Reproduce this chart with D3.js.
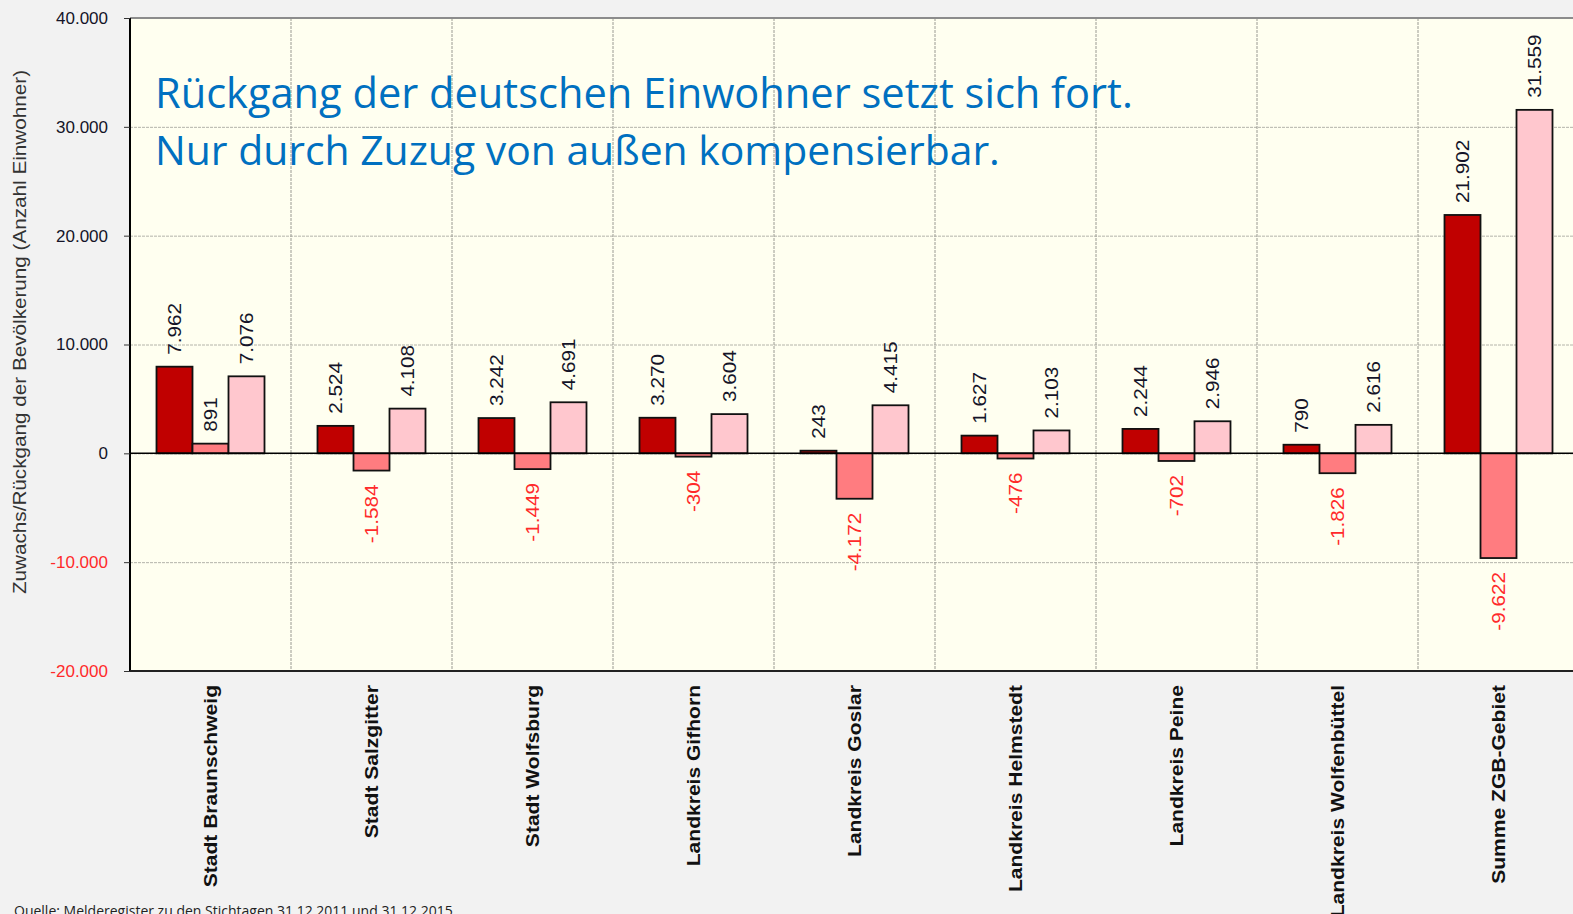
<!DOCTYPE html>
<html>
<head>
<meta charset="utf-8">
<script src="https://cdn.jsdelivr.net/npm/d3@7"></script>
<style>
  html, body { margin: 0; padding: 0; background: #f2f2f2; overflow: hidden; }
  svg { display: block; }
  .axis text { font-family: "Liberation Sans", Arial, sans-serif; }
</style>
</head>
<body>
<script>
var W = 1573, H = 914;
var margin = {top: 18, left: 130, bottom: 243};

var categories = ["Stadt Braunschweig", "Stadt Salzgitter", "Stadt Wolfsburg", "Landkreis Gifhorn",
    "Landkreis Goslar", "Landkreis Helmstedt", "Landkreis Peine", "Landkreis Wolfenbüttel", "Summe ZGB-Gebiet"];
var series = ["s1", "s2", "s3"];
var values1 = [7962, 2524, 3242, 3270, 243, 1627, 2244, 790, 21902];
var values2 = [891, -1584, -1449, -304, -4172, -476, -702, -1826, -9622];
var values3 = [7076, 4108, 4691, 3604, 4415, 2103, 2946, 2616, 31559];
var yTicks = [40000, 30000, 20000, 10000, 0, -10000, -20000];
var colors = ["#c00000", "#ff7c80", "#ffc7ce"];
var titleLines = ["Rückgang der deutschen Einwohner setzt sich fort.", "Nur durch Zuzug von außen kompensierbar."];
var yTitle = "Zuwachs/Rückgang der Bevölkerung (Anzahl Einwohner)";
var source = "Quelle: Melderegister zu den Stichtagen 31.12.2011 und 31.12.2015";

var de = d3.formatLocale({decimal: ",", thousands: ".", grouping: [3], currency: ["", " €"], minus: "-"});
var fmt = de.format(",d");

var plotBottom = H - margin.bottom; // 671
var plotRight = margin.left + 161 * categories.length;

var x = d3.scaleBand().domain(categories).range([margin.left, plotRight]);
var xs = d3.scaleBand().domain(series).range([26.5, 134.5]);
var y = d3.scaleLinear().domain([-20000, 40000]).range([plotBottom, margin.top]);

var data = [];
categories.forEach(function(c, i) {
    [values1, values2, values3].forEach(function(v, j) {
        data.push({cat: c, s: series[j], v: v[i], color: colors[j]});
    });
});

var svg = d3.select("body").append("svg")
    .attr("width", W)
    .attr("height", H);

svg.append("rect")
    .attr("x", margin.left)
    .attr("y", margin.top)
    .attr("width", plotRight - margin.left)
    .attr("height", plotBottom - margin.top)
    .attr("fill", "#fffff0");

// horizontal grid
svg.append("g")
    .attr("class", "grid")
    .attr("transform", "translate(" + margin.left + ",0)")
    .call(d3.axisLeft(y).tickValues(yTicks).tickSize(-(plotRight - margin.left)).tickFormat(""))
    .call(function(g) { g.select(".domain").remove(); })
    .selectAll("line")
    .attr("stroke", "#b4b4aa")
    .attr("stroke-dasharray", "3,1");

// vertical separators
svg.append("g")
    .selectAll("line")
    .data(categories.slice(1))
    .join("line")
    .attr("x1", function(d) { return x(d); })
    .attr("x2", function(d) { return x(d); })
    .attr("y1", margin.top)
    .attr("y2", plotBottom)
    .attr("stroke", "#9a9a92")
    .attr("stroke-dasharray", "3,1");

// top border
svg.append("line")
    .attr("x1", margin.left).attr("x2", W)
    .attr("y1", margin.top).attr("y2", margin.top)
    .attr("stroke", "#8c8c8c").attr("stroke-width", 2);

// bars
svg.append("g")
    .selectAll("rect")
    .data(data)
    .join("rect")
    .attr("x", function(d) { return x(d.cat) + xs(d.s); })
    .attr("width", xs.bandwidth())
    .attr("y", function(d) { return y(Math.max(0, d.v)); })
    .attr("height", function(d) { return Math.abs(y(d.v) - y(0)); })
    .attr("fill", function(d) { return d.color; })
    .attr("stroke", "#111")
    .attr("stroke-width", 1.8);

// zero line
svg.append("line")
    .attr("x1", margin.left).attr("x2", W)
    .attr("y1", y(0)).attr("y2", y(0))
    .attr("stroke", "#000").attr("stroke-width", 1.5);

// value labels (glyphs a bit stretched along the text, like the original)
svg.append("g")
    .selectAll("text")
    .data(data)
    .join("text")
    .attr("transform", function(d) {
        var cx = x(d.cat) + xs(d.s) + xs.bandwidth() / 2;
        var cy = d.v >= 0 ? y(d.v) - 12 : y(d.v) + 14;
        return "translate(" + cx + "," + cy + ") rotate(-90) scale(1.15,1)";
    })
    .attr("dy", "0.35em")
    .attr("text-anchor", function(d) { return d.v >= 0 ? "start" : "end"; })
    .attr("font-family", "'Liberation Sans', Arial, sans-serif")
    .attr("font-size", 18)
    .attr("fill", function(d) { return d.v >= 0 ? "#141428" : "#ff2a2a"; })
    .text(function(d) { return fmt(d.v); });

// y axis
var yAxis = svg.append("g")
    .attr("class", "axis")
    .attr("transform", "translate(" + margin.left + ",0)")
    .call(d3.axisLeft(y).tickValues(yTicks).tickSize(6).tickPadding(16).tickFormat(fmt));
yAxis.select(".domain").attr("stroke", "#000").attr("stroke-width", 2).attr("d", "M0," + margin.top + "V" + plotBottom);
yAxis.selectAll(".tick line").attr("stroke", "#333");
yAxis.selectAll(".tick text")
    .attr("font-size", 17)
    .attr("fill", function(d) { return d < 0 ? "#ff2a2a" : "#141428"; });

// x axis
var xAxis = svg.append("g")
    .attr("class", "axis")
    .attr("transform", "translate(0," + plotBottom + ")")
    .call(d3.axisBottom(x).tickSize(0).tickPadding(0));
xAxis.select(".domain").attr("stroke", "#222").attr("stroke-width", 2).attr("d", "M" + margin.left + ",0H" + W);
xAxis.selectAll(".tick text")
    .attr("transform", "rotate(-90) translate(-14,0) scale(1.17,1)")
    .attr("x", 0)
    .attr("y", 0)
    .attr("dy", "0.35em")
    .attr("text-anchor", "end")
    .attr("font-size", 18)
    .attr("font-weight", "bold")
    .attr("fill", "#111");

// y axis title
svg.append("text")
    .attr("transform", "translate(20," + 332 + ") rotate(-90) scale(1.15,1)")
    .attr("dy", "0.35em")
    .attr("text-anchor", "middle")
    .attr("font-family", "'Liberation Sans', Arial, sans-serif")
    .attr("font-size", 18)
    .attr("fill", "#333")
    .text(yTitle);

// headline
var targetW = [978, 845];
var baselines = [108, 165];
titleLines.forEach(function(t, i) {
    var tx = svg.append("text")
        .attr("x", 155)
        .attr("y", baselines[i])
        .attr("font-family", "'Open Sans', 'Noto Sans', sans-serif")
        .attr("font-size", 44)
        .attr("fill", "#0070c0")
        .text(t);
    var w = tx.node().getComputedTextLength();
    tx.attr("font-size", 44 * targetW[i] / w);
});

// source
svg.append("text")
    .attr("x", 14)
    .attr("y", 916)
    .attr("font-family", "'Open Sans', 'Noto Sans', sans-serif")
    .attr("font-size", 14)
    .attr("fill", "#222")
    .text(source);
</script>
</body>
</html>
